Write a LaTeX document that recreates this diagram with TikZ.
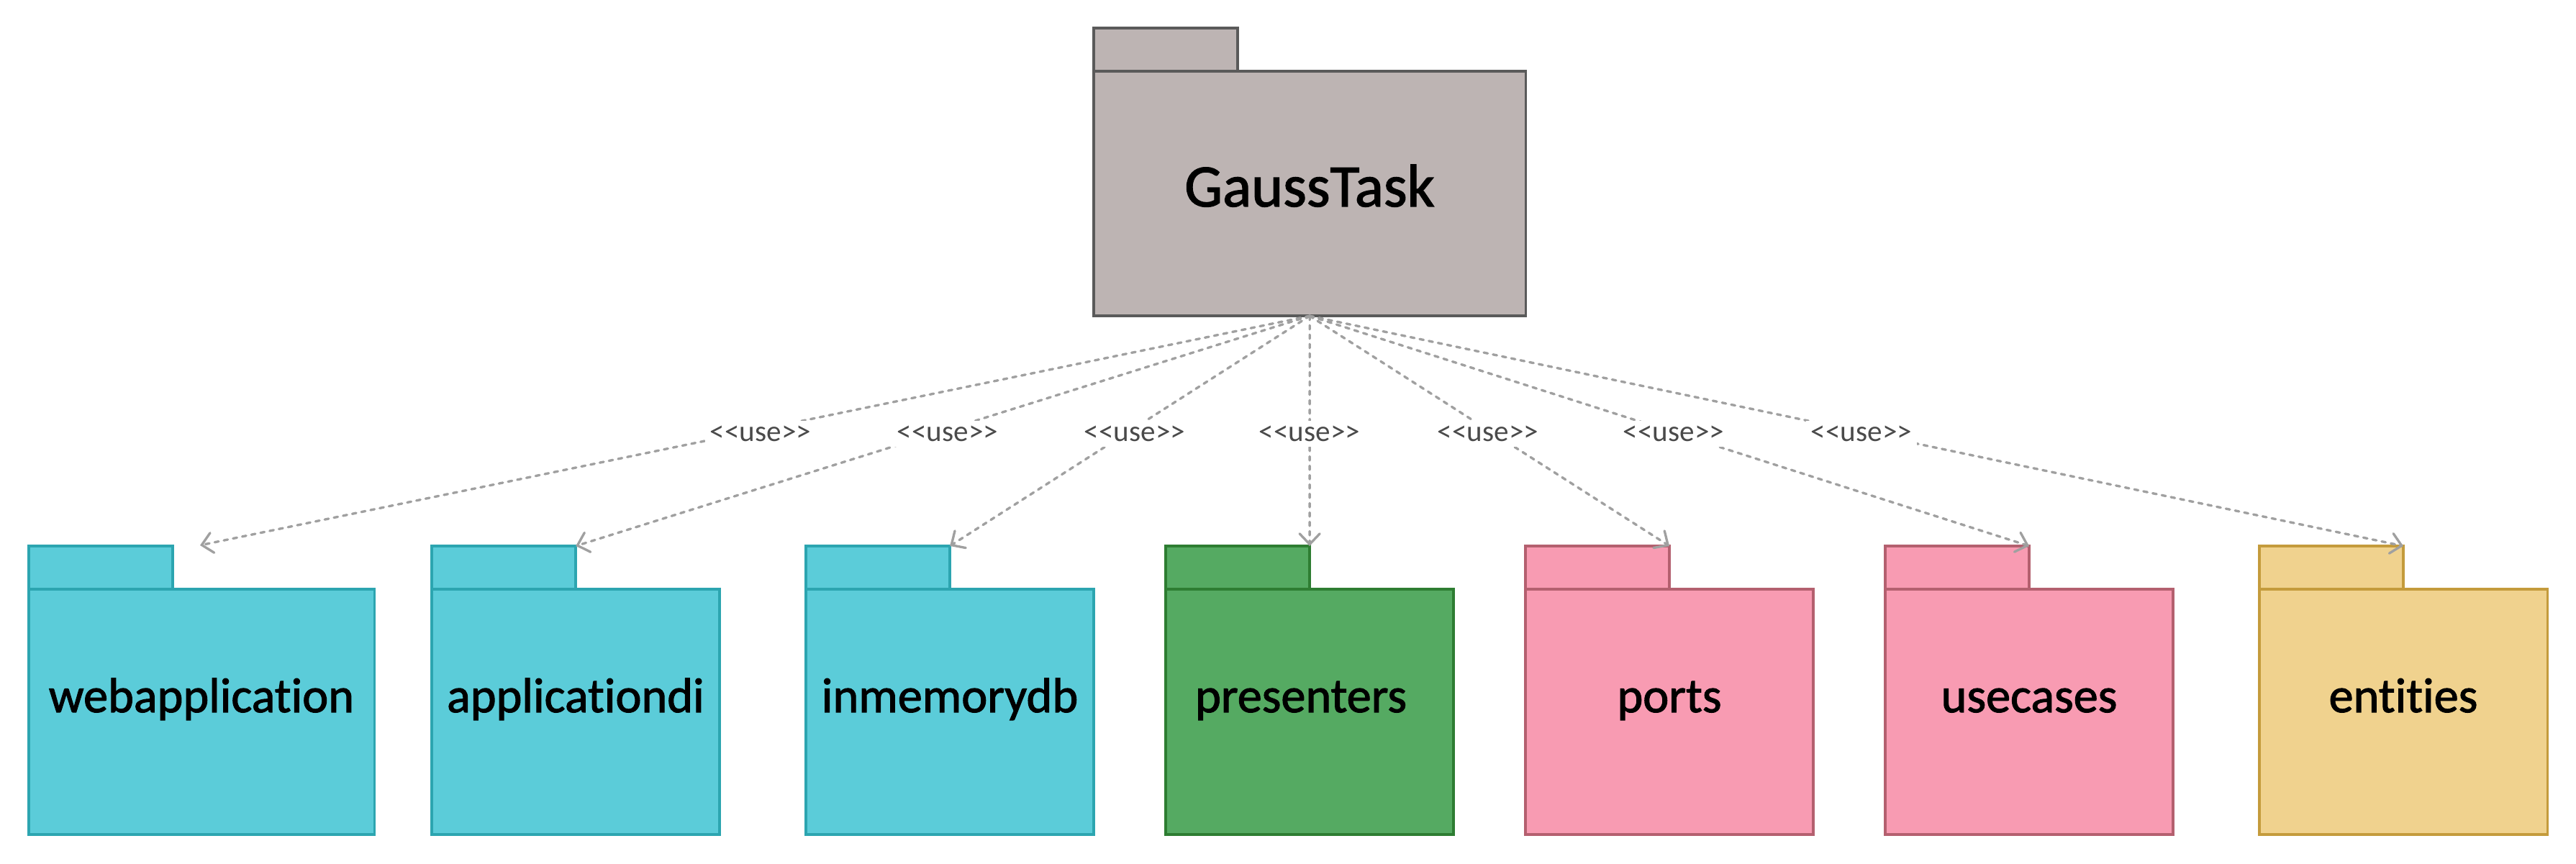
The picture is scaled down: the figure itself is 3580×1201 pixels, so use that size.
\documentclass[tikz,border=0pt]{standalone}
\usepackage{fontspec}
\setmainfont{Carlito}[Ligatures={NoCommon}]
\newfontfamily\pkgfont{Carlito}[Ligatures={NoCommon},FakeBold=1.6]
\usetikzlibrary{arrows.meta}
\definecolor{gfill}{HTML}{BDB4B3}
\definecolor{gdraw}{HTML}{5A5A5A}
\definecolor{cfill}{HTML}{5BCCD9}
\definecolor{cdraw}{HTML}{2CA5B0}
\definecolor{grfill}{HTML}{55AA62}
\definecolor{grdraw}{HTML}{2E7D32}
\definecolor{pfill}{HTML}{F89BB2}
\definecolor{pdraw}{HTML}{B4606F}
\definecolor{yfill}{HTML}{F0D28E}
\definecolor{ydraw}{HTML}{C49B3C}
\definecolor{arrowgray}{HTML}{A0A0A0}
\definecolor{labelgray}{HTML}{4A4A4A}
\begin{document}
\begin{tikzpicture}[x=0.01cm,y=-0.01cm,
  pkgtab/.style={draw, line width=1pt, minimum width=2cm, minimum height=0.6cm, anchor=north west, inner sep=0pt, outer sep=0pt},
  pkgbody/.style={draw, line width=1pt, minimum height=3.41cm, anchor=north west, inner sep=0pt, outer sep=0pt},
  pkglabel/.style={anchor=base, font=\pkgfont\fontsize{19.4}{21}\selectfont, text=black, inner sep=0pt},
  toplabel/.style={anchor=base, font=\pkgfont\fontsize{23.8}{26}\selectfont, text=black, inner sep=0pt},
  dep/.style={draw=arrowgray, line width=0.95pt, dash pattern=on 1.6pt off 2.1pt, line cap=round,
    -{Straight Barb[length=4.2pt,width=8pt,line cap=round]}},
  uselabel/.style={fill=white, font=\fontsize{11.7}{13}\selectfont, text=labelgray, inner sep=2pt}
]
\useasboundingbox (0,0) rectangle (3580,1201);
\fill[white] (0,0) rectangle (3580,1201);

% top package
\node[pkgtab, fill=gfill, draw=gdraw] (gtab) at (1520,39) {};
\node[pkgbody, fill=gfill, draw=gdraw, minimum width=6cm, minimum height=3.4cm] (gauss) at (1520,99) {};
\node[toplabel] (gausslbl) at (1820,287) {GaussTask};

% bottom packages
\node[pkgtab, fill=cfill, draw=cdraw] (webtab) at (40,759) {};
\node[pkgbody, fill=cfill, draw=cdraw, minimum width=4.8cm] (web) at (40,819) {};
\node[pkglabel] (weblbl) at (280,990) {webapplication};

\node[pkgtab, fill=cfill, draw=cdraw] (aditab) at (600,759) {};
\node[pkgbody, fill=cfill, draw=cdraw, minimum width=4cm] (adi) at (600,819) {};
\node[pkglabel] (adilbl) at (800,990) {applicationdi};

\node[pkgtab, fill=cfill, draw=cdraw] (memtab) at (1120,759) {};
\node[pkgbody, fill=cfill, draw=cdraw, minimum width=4cm] (mem) at (1120,819) {};
\node[pkglabel] (memlbl) at (1320,990) {inmemorydb};

\node[pkgtab, fill=grfill, draw=grdraw] (pretab) at (1620,759) {};
\node[pkgbody, fill=grfill, draw=grdraw, minimum width=4cm] (pre) at (1620,819) {};
\node[pkglabel] (prelbl) at (1808,990) {presenters};

\node[pkgtab, fill=pfill, draw=pdraw] (porttab) at (2120,759) {};
\node[pkgbody, fill=pfill, draw=pdraw, minimum width=4cm] (port) at (2120,819) {};
\node[pkglabel] (portlbl) at (2320,990) {ports};

\node[pkgtab, fill=pfill, draw=pdraw] (usetab) at (2620,759) {};
\node[pkgbody, fill=pfill, draw=pdraw, minimum width=4cm] (usec) at (2620,819) {};
\node[pkglabel] (uselbl) at (2820,990) {usecases};

\node[pkgtab, fill=yfill, draw=ydraw] (enttab) at (3140,759) {};
\node[pkgbody, fill=yfill, draw=ydraw, minimum width=4cm] (ent) at (3140,819) {};
\node[pkglabel] (entlbl) at (3340,990) {entities};

\coordinate (webend) at (278,758);

% dependencies
\draw[dep] (gauss.south) -- (webend);
\draw[dep] (gauss.south) -- (aditab.north east);
\draw[dep] (gauss.south) -- (memtab.north east);
\draw[dep] (gauss.south) -- (pretab.north east);
\draw[dep] (gauss.south) -- (porttab.north east);
\draw[dep] (gauss.south) -- (usetab.north east);
\draw[dep] (gauss.south) -- (enttab.north east);

\node[uselabel] (u1) at (1057,603) {<{}<use>{}>};
\node[uselabel] (u2) at (1317,603) {<{}<use>{}>};
\node[uselabel] (u3) at (1577,603) {<{}<use>{}>};
\node[uselabel] (u4) at (1820,603) {<{}<use>{}>};
\node[uselabel] (u5) at (2068,603) {<{}<use>{}>};
\node[uselabel] (u6) at (2326,603) {<{}<use>{}>};
\node[uselabel] (u7) at (2587,603) {<{}<use>{}>};
\end{tikzpicture}
\end{document}
